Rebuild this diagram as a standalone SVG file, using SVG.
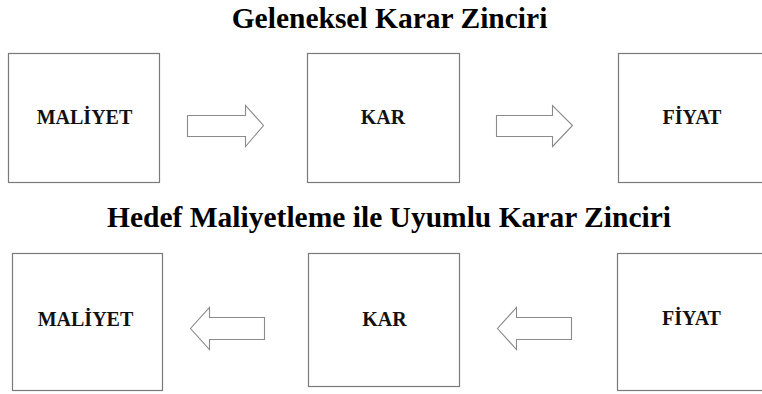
<svg xmlns="http://www.w3.org/2000/svg" width="762" height="394" viewBox="0 0 762 394">
  <style>
    .title { font-family: 'Liberation Serif', 'Times New Roman', Tinos, 'DejaVu Serif', 'Noto Serif', serif; font-weight: 700; font-size: 29.5px; fill: #000; text-anchor: middle; }
    .label { font-family: 'Liberation Serif', 'Times New Roman', Tinos, 'DejaVu Serif', 'Noto Serif', serif; font-weight: 700; font-size: 20px; fill: #111; text-anchor: middle; }
    .box { fill: #fff; stroke: #7a7a7a; stroke-width: 1.2; }
    .arrow { fill: #fff; stroke: #8a8a8a; stroke-width: 1.1; stroke-linejoin: miter; }
  </style>
  <rect width="762" height="394" fill="#fff"/>

  <text class="title" x="389.5" y="28" font-family="Liberation Serif, serif">Geleneksel Karar Zinciri</text>
  <text class="title" x="389" y="227" font-family="Liberation Serif, serif">Hedef Maliyetleme ile Uyumlu Karar Zinciri</text>

  <!-- traditional chain: cost -> profit -> price -->
  <g id="top-maliyet">
    <rect class="box" x="8.5" y="53.5" width="151" height="129"/>
    <text class="label" x="84.5" y="124">MALİYET</text>
  </g>
  <g id="top-kar">
    <rect class="box" x="307.5" y="53.5" width="152" height="129"/>
    <text class="label" x="383" y="124">KAR</text>
  </g>
  <g id="top-fiyat">
    <rect class="box" x="618.5" y="53.5" width="152" height="129"/>
    <text class="label" x="692" y="124">FİYAT</text>
  </g>

  <!-- target costing chain: price -> profit -> cost -->
  <g id="bottom-maliyet">
    <rect class="box" x="12.5" y="253.5" width="150" height="137"/>
    <text class="label" x="85.5" y="325.5">MALİYET</text>
  </g>
  <g id="bottom-kar">
    <rect class="box" x="308.5" y="253.5" width="151" height="133"/>
    <text class="label" x="384.5" y="325.5">KAR</text>
  </g>
  <g id="bottom-fiyat">
    <rect class="box" x="617.5" y="253.5" width="153" height="137"/>
    <text class="label" x="691.5" y="325">FİYAT</text>
  </g>

  <g id="connectors">
    <path class="arrow" d="M187.5,115.5 H245.5 V105.5 L263.5,125.5 L245.5,146.5 V136.5 H187.5 Z"/>
    <path class="arrow" d="M496.5,115.5 H552.5 V105.5 L572.5,125.5 L552.5,146.5 V136.5 H496.5 Z"/>
    <path class="arrow" d="M264.5,317.5 H209.5 V307.5 L190.5,328.5 L209.5,349.5 V339.5 H264.5 Z"/>
    <path class="arrow" d="M571.5,317.5 H516.5 V307.5 L497.5,328.5 L516.5,349.5 V339.5 H571.5 Z"/>
  </g>
</svg>
